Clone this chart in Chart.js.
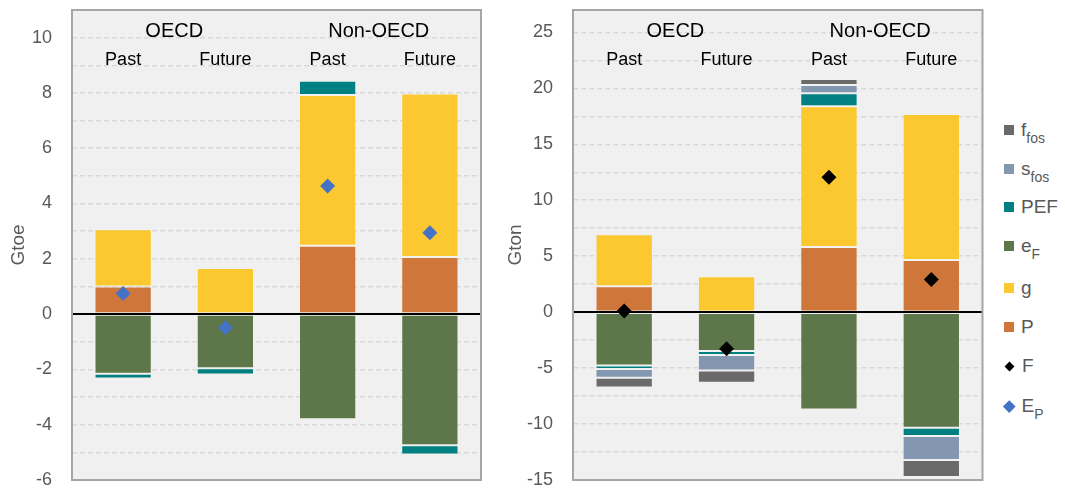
<!DOCTYPE html>
<html>
<head>
<meta charset="utf-8">
<script src="https://cdn.jsdelivr.net/npm/chart.js@4/dist/chart.umd.min.js"></script>
<style>
  html, body { margin: 0; padding: 0; background: #fff; }
  body { width: 1065px; height: 488px; position: relative; overflow: hidden;
         font-family: "Liberation Sans", Arial, sans-serif; }
  #energy { position: absolute; left: 0; top: 0; }
  #emissions { position: absolute; left: 490px; top: 0; }
  .item { position: absolute; left: 1004px; height: 20px; display: flex; align-items: center;
          color: #595959; font-size: 19px; line-height: 20px; white-space: nowrap; }
  .sw { width: 10px; height: 10px; margin-right: 7px; flex: none; }
  .dia { width: 7px; height: 7px; margin: 0 9px 0 2px; transform: rotate(45deg); flex: none; }
  .dia.big { width: 8.5px; height: 8.5px; margin: 0 8px 0 1px; }
  .lbl sub { font-size: 14px; vertical-align: -7px; line-height: 0; }
</style>
</head>
<body>
<canvas id="energy" width="490" height="488"></canvas>
<canvas id="emissions" width="500" height="488"></canvas>

<div class="item" style="top:120px"><span class="sw" style="background:#6A6A6A"></span><span class="lbl">f<sub>fos</sub></span></div>
<div class="item" style="top:159px"><span class="sw" style="background:#8497B0"></span><span class="lbl">s<sub>fos</sub></span></div>
<div class="item" style="top:197px"><span class="sw" style="background:#008080"></span><span class="lbl">PEF</span></div>
<div class="item" style="top:236px"><span class="sw" style="background:#5D774A"></span><span class="lbl">e<sub>F</sub></span></div>
<div class="item" style="top:278px"><span class="sw" style="background:#FCC82F"></span><span class="lbl">g</span></div>
<div class="item" style="top:317px"><span class="sw" style="background:#CF773B"></span><span class="lbl">P</span></div>
<div class="item" style="top:356px"><span class="dia" style="background:#000"></span><span class="lbl">F</span></div>
<div class="item" style="top:396px"><span class="dia big" style="background:#4472C4"></span><span class="lbl">E<sub>P</sub></span></div>

<script>
// Periods and regions
const periods = ['Past', 'Future', 'Past', 'Future'];
const regions = ['OECD', 'Non-OECD'];

// Primary energy decomposition (Gtoe)
const energyP   = [1.00, 0.00, 2.47, 2.07];
const energyG   = [2.07, 1.67, 5.46, 5.91];
const energyEF  = [-2.16, -1.96, -3.80, -4.74];
const energyPEF = [-0.17, -0.22, 0.51, -0.34];
const energyEP  = [0.75, -0.49, 4.63, 2.94];

// Emissions decomposition (Gton)
const emisP    = [2.32, 0.00, 5.83, 4.67];
const emisG    = [4.64, 3.21, 12.56, 13.03];
const emisEF   = [-4.76, -3.48, -8.69, -10.33];
const emisPEF  = [-0.33, -0.36, 1.16, -0.74];
const emisSfos = [-0.78, -1.37, 0.74, -2.14];
const emisFfos = [-0.86, -1.10, 0.54, -1.52];
const emisF    = [0.10, -3.27, 12.05, 2.92];

// Axis ticks
const energyTicks = [-6, -5, -4, -3, -2, -1, 0, 1, 2, 3, 4, 5, 6, 7, 8, 9, 10];
const emisTicks = [-15, -12.5, -10, -7.5, -5, -2.5, 0, 2.5, 5, 7.5, 10, 12.5, 15, 17.5, 20, 22.5, 25];

const COL = {
  ffos: '#6A6A6A', sfos: '#8497B0', pef: '#008080', ef: '#5D774A',
  g: '#FCC82F', p: '#CF773B', f: '#000000', ep: '#4472C4'
};
const FONT = '"Liberation Sans", Arial, sans-serif';
Chart.defaults.font.family = FONT;

// Plot background, frame, zero line and period/region headings
const framePlugin = {
  id: 'frame',
  beforeDraw(chart) {
    const { ctx, chartArea: a } = chart;
    ctx.save();
    ctx.fillStyle = '#F0F0F0';
    ctx.fillRect(a.left, a.top, a.right - a.left, a.bottom - a.top);
    ctx.restore();
  },
  beforeDatasetDraw(chart, args) {
    if (args.meta.type !== 'line') return;
    const { ctx, chartArea: a, scales: { y } } = chart;
    const y0 = Math.round(y.getPixelForValue(0));
    ctx.save();
    ctx.strokeStyle = '#000';
    ctx.lineWidth = 2;
    ctx.beginPath();
    ctx.moveTo(a.left, y0);
    ctx.lineTo(a.right, y0);
    ctx.stroke();
    ctx.restore();
  },
  afterDraw(chart) {
    const { ctx, chartArea: a, scales: { x } } = chart;
    ctx.save();
    ctx.strokeStyle = '#A6A6A6';
    ctx.lineWidth = 2;
    ctx.strokeRect(a.left, a.top, a.right - a.left, a.bottom - a.top);
    ctx.fillStyle = '#000';
    ctx.textAlign = 'center';
    ctx.textBaseline = 'alphabetic';
    ctx.font = '20px ' + FONT;
    regions.forEach((r, i) => {
      const cx = (x.getPixelForValue(2 * i) + x.getPixelForValue(2 * i + 1)) / 2;
      ctx.fillText(r, cx, a.top + 27);
    });
    ctx.font = '18px ' + FONT;
    periods.forEach((p, i) => {
      ctx.fillText(p, x.getPixelForValue(i), a.top + 55);
    });
    ctx.restore();
  }
};

function barSet(label, data, color) {
  return {
    type: 'bar', label, data, backgroundColor: color,
    borderColor: 'rgba(255,255,255,0.15)', borderWidth: 1, borderSkipped: false,
    categoryPercentage: 1, barPercentage: 0.56, stack: 's', order: 1
  };
}
function markerSet(label, data, color) {
  return {
    type: 'line', label, data, showLine: false, order: 0,
    pointStyle: 'rectRot', pointRadius: 7.5, pointBackgroundColor: color,
    pointBorderColor: color, pointBorderWidth: 0
  };
}

function makeChart(id, datasets, yMin, yMax, ticks, labelStep, title, axisWidth, titlePad, padRight) {
  return new Chart(document.getElementById(id), {
    data: { labels: periods, datasets },
    options: {
      responsive: false, animation: false, devicePixelRatio: 1,
      layout: { padding: { left: 0, right: padRight, top: 10, bottom: 8 } },
      plugins: { legend: { display: false }, tooltip: { enabled: false } },
      scales: {
        x: { display: false, stacked: true },
        y: {
          stacked: true, min: yMin, max: yMax,
          afterFit(s) { s.width = axisWidth; s.paddingTop = 0; s.paddingBottom = 0; },
          afterBuildTicks(s) { s.ticks = ticks.map(v => ({ value: v })); },
          ticks: {
            autoSkip: false, padding: 20, color: '#595959', font: { size: 18 },
            callback: v => (Math.abs(v % labelStep) < 1e-9 ? String(v) : '')
          },
          grid: { color: '#D9D9D9', lineWidth: 1.5, drawTicks: false },
          border: { display: false, dash: [5, 3] },
          title: { display: true, text: title, color: '#595959', font: { size: 19 },
                   padding: { top: titlePad, bottom: 0 } }
        }
      }
    },
    plugins: [framePlugin]
  });
}

makeChart('energy', [
  barSet('P', energyP, COL.p),
  barSet('g', energyG, COL.g),
  barSet('eF', energyEF, COL.ef),
  barSet('PEF', energyPEF, COL.pef),
  markerSet('EP', energyEP, COL.ep)
], -6, 11, energyTicks, 2, 'Gtoe', 72, 7, 9);

makeChart('emissions', [
  barSet('P', emisP, COL.p),
  barSet('g', emisG, COL.g),
  barSet('eF', emisEF, COL.ef),
  barSet('PEF', emisPEF, COL.pef),
  barSet('sfos', emisSfos, COL.sfos),
  barSet('ffos', emisFfos, COL.ffos),
  markerSet('F', emisF, COL.f)
], -15, 27, emisTicks, 5, 'Gton', 83, 14, 3);
</script>
</body>
</html>
